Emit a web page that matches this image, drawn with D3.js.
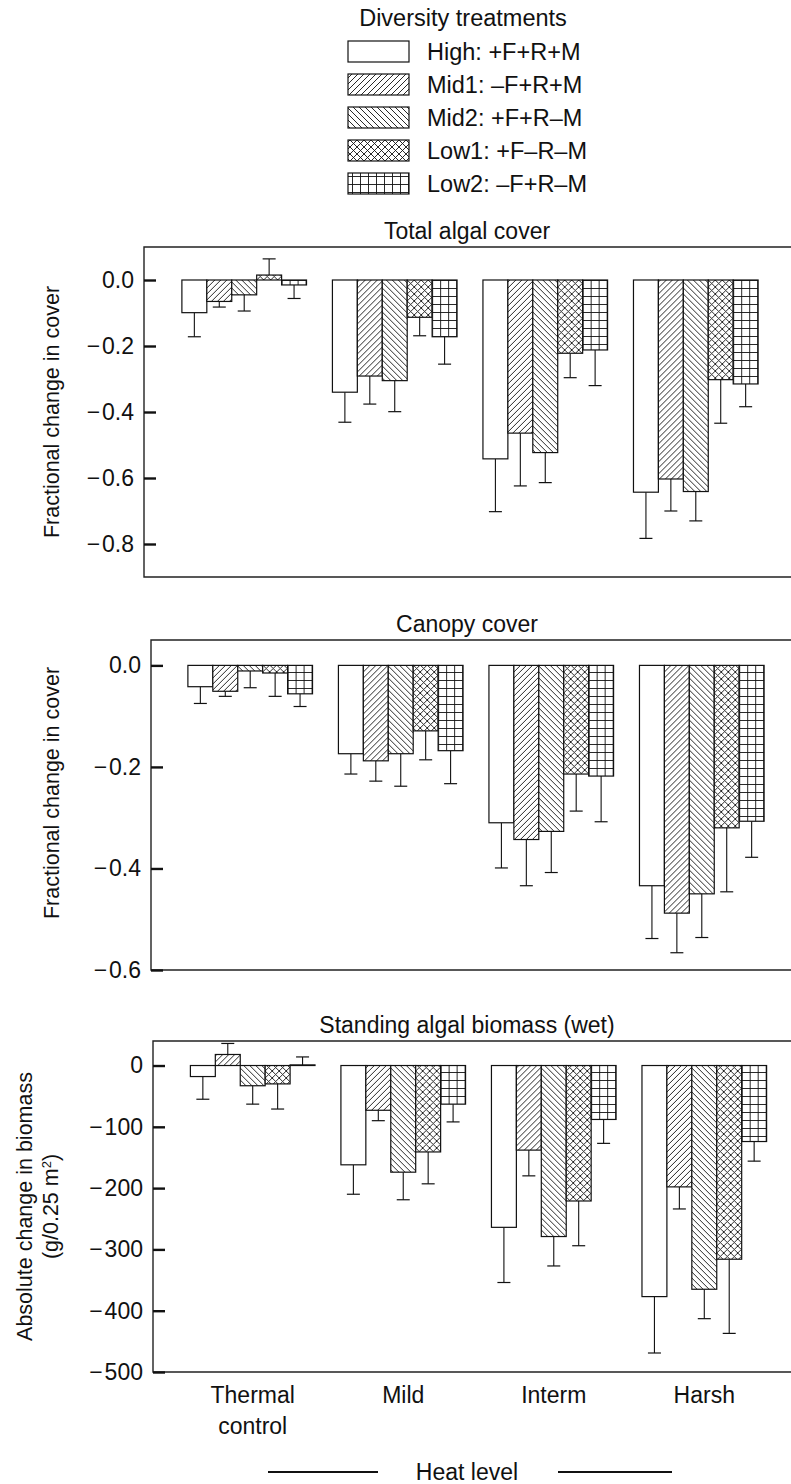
<!DOCTYPE html>
<html>
<head>
<meta charset="utf-8">
<script src="https://cdn.jsdelivr.net/npm/d3@7"></script>
<style>
  body { margin: 0; background: #fff; }
  text { font-family: "Liberation Sans", Arial, sans-serif; fill: #111; }
  .narrow { font-family: "Liberation Sans Narrow", "Liberation Sans", Arial, sans-serif; }
</style>
</head>
<body>
<div id="chart"></div>
<script>
const width = 791;
const height = 1484;

const heatLevels = ["Thermal control", "Mild", "Interm", "Harsh"];
const treatments = ["High", "Mid1", "Mid2", "Low1", "Low2"];
const treatmentLabels = ["High: +F+R+M", "Mid1: \u2013F+R+M", "Mid2: +F+R\u2013M", "Low1: +F\u2013R\u2013M", "Low2: \u2013F+R\u2013M"];

// rows = heat level, columns = treatment
const totalMean = [
  [-0.099, -0.065, -0.045, 0.015, -0.015],
  [-0.340, -0.291, -0.305, -0.113, -0.172],
  [-0.542, -0.464, -0.523, -0.222, -0.212],
  [-0.643, -0.603, -0.641, -0.302, -0.315]
];
const totalErr = [
  [0.073, 0.017, 0.049, 0.049, 0.041],
  [0.091, 0.085, 0.094, 0.056, 0.083],
  [0.160, 0.160, 0.091, 0.074, 0.108],
  [0.140, 0.097, 0.089, 0.132, 0.069]
];
const canopyMean = [
  [-0.042, -0.051, -0.011, -0.015, -0.056],
  [-0.174, -0.188, -0.174, -0.129, -0.168],
  [-0.310, -0.343, -0.327, -0.214, -0.218],
  [-0.434, -0.488, -0.450, -0.320, -0.307]
];
const canopyErr = [
  [0.033, 0.010, 0.033, 0.046, 0.025],
  [0.040, 0.040, 0.064, 0.057, 0.065],
  [0.089, 0.091, 0.081, 0.073, 0.090],
  [0.104, 0.078, 0.086, 0.126, 0.071]
];
const biomassMean = [
  [-18, 18, -33, -30, 1],
  [-162, -73, -174, -141, -63],
  [-264, -138, -279, -221, -88],
  [-377, -198, -365, -316, -124]
];
const biomassErr = [
  [37, 18, 30, 41, 13],
  [48, 17, 45, 52, 29],
  [90, 42, 48, 73, 39],
  [92, 36, 48, 121, 32]
];

const totalTicks = [0, -0.2, -0.4, -0.6, -0.8];
const canopyTicks = [0, -0.2, -0.4, -0.6];
const biomassTicks = [0, -100, -200, -300, -400, -500];

const fills = ["none", "url(#hatchR)", "url(#hatchL)", "url(#cross)", "url(#grid)"];

const svg = d3.select("#chart").append("svg")
    .attr("width", width)
    .attr("height", height);

// hatch patterns
const defs = svg.append("defs");
function pattern(id, size, d) {
  const p = defs.append("pattern")
      .attr("id", id)
      .attr("patternUnits", "userSpaceOnUse")
      .attr("width", size)
      .attr("height", size);
  p.append("rect").attr("width", size).attr("height", size).attr("fill", "#fff");
  p.append("path").attr("d", d).attr("stroke", "#111").attr("stroke-width", 0.9).attr("fill", "none");
}
pattern("hatchR", 6, "M0,6L6,0M-1,1L1,-1M5,7L7,5");
pattern("hatchL", 6, "M0,0L6,6M-1,5L1,7M5,-1L7,1");
pattern("cross", 7, "M0,7L7,0M-1,1L1,-1M6,8L8,6M0,0L7,7M-1,6L1,8M6,-1L8,1");
pattern("grid", 8, "M0,0.5H8M0.5,0V8");

// legend
svg.append("text")
    .attr("x", 463).attr("y", 26)
    .attr("text-anchor", "middle")
    .attr("font-size", 23.5)
    .text("Diversity treatments");

const legend = svg.append("g");
treatments.forEach((t, i) => {
  const y0 = 41 + i * 33;
  legend.append("rect")
      .attr("x", 348).attr("y", y0)
      .attr("width", 61).attr("height", 21)
      .attr("fill", i === 0 ? "#fff" : fills[i])
      .attr("stroke", "#111").attr("stroke-width", 1.2);
  legend.append("text")
      .attr("x", 427).attr("y", y0 + 19)
      .attr("font-size", 23.5)
      .text(treatmentLabels[i]);
});

function fmt(dec) {
  return v => {
    const s = d3.format(dec ? ".1f" : "d")(Math.abs(v));
    return v < 0 ? "\u2212\u200a" + s : s;
  };
}

function panel(opt) {
  const y = d3.scaleLinear().domain(opt.domain).range([opt.bottom, opt.top]);
  const x = d3.scaleBand()
      .domain(heatLevels)
      .range([156.3 + opt.shift, 783.7 + opt.shift])
      .paddingInner(0.172)
      .paddingOuter(0.17);
  const xi = d3.scaleBand().domain(treatments).range([0, x.bandwidth()]);

  const g = svg.append("g");

  // frame (right side runs off the page)
  g.append("path")
      .attr("d", d3.line()([[width + 2, opt.top], [opt.left, opt.top], [opt.left, opt.bottom], [width + 2, opt.bottom]]))
      .attr("fill", "none")
      .attr("stroke", "#222")
      .attr("stroke-width", 1.4);

  g.append("text")
      .attr("x", 467).attr("y", opt.top - 8)
      .attr("text-anchor", "middle")
      .attr("font-size", 23)
      .text(opt.title);

  const ax = g.append("g")
      .attr("transform", `translate(${opt.left},0)`)
      .call(d3.axisLeft(y).tickValues(opt.ticks).tickSize(-12).tickPadding(10).tickFormat(fmt(opt.dec)));
  ax.select(".domain").remove();
  ax.selectAll(".tick line").attr("stroke", "#111").attr("stroke-width", 2.4);
  ax.selectAll(".tick text").attr("font-size", 23).attr("fill", "#111")
      .style("font-family", "'Liberation Sans', Arial, sans-serif");

  opt.yLabel.forEach((lab, i) => {
    g.append("text")
        .attr("transform", `translate(${opt.labelX[i]},${(opt.top + opt.bottom) / 2 + opt.labelDy}) rotate(-90)`)
        .attr("text-anchor", "middle")
        .attr("font-size", 21.5)
        .html(lab);
  });

  const rows = opt.mean.flatMap((row, r) => row.map((v, c) => ({
    heat: heatLevels[r], t: treatments[c], idx: c, v: v, e: opt.err[r][c]
  })));

  const bars = g.append("g").selectAll("g").data(rows).join("g")
      .attr("transform", d => `translate(${x(d.heat) + xi(d.t)},0)`);

  // error bars, drawn away from zero
  bars.append("line")
      .attr("x1", xi.bandwidth() / 2).attr("x2", xi.bandwidth() / 2)
      .attr("y1", d => y(d.v))
      .attr("y2", d => y(d.v + Math.sign(d.v || 1) * d.e))
      .attr("stroke", "#111").attr("stroke-width", 1.1);
  bars.append("line")
      .attr("x1", xi.bandwidth() / 2 - 6.5).attr("x2", xi.bandwidth() / 2 + 6.5)
      .attr("y1", d => y(d.v + Math.sign(d.v || 1) * d.e))
      .attr("y2", d => y(d.v + Math.sign(d.v || 1) * d.e))
      .attr("stroke", "#111").attr("stroke-width", 1.2);

  bars.append("rect")
      .attr("x", 0)
      .attr("width", xi.bandwidth())
      .attr("y", d => Math.min(y(0), y(d.v)))
      .attr("height", d => Math.abs(y(d.v) - y(0)))
      .attr("fill", d => d.idx === 0 ? "#fff" : fills[d.idx])
      .attr("stroke", "#111")
      .attr("stroke-width", 1.2);

  return x;
}

panel({
  title: "Total algal cover", top: 247, bottom: 577, left: 144, shift: 0,
  domain: [-0.9, 0.1], ticks: totalTicks, dec: true,
  mean: totalMean, err: totalErr,
  yLabel: ["Fractional change in cover"], labelX: [59], labelDy: 0
});

panel({
  title: "Canopy cover", top: 640, bottom: 970, left: 151, shift: 6,
  domain: [-0.6, 0.05], ticks: canopyTicks, dec: true,
  mean: canopyMean, err: canopyErr,
  yLabel: ["Fractional change in cover"], labelX: [59], labelDy: -12
});

const x3 = panel({
  title: "Standing algal biomass (wet)", top: 1041, bottom: 1372, left: 153, shift: 8.5,
  domain: [-500, 40], ticks: biomassTicks, dec: false,
  mean: biomassMean, err: biomassErr,
  yLabel: ["Absolute change in biomass", "(g/0.25 m<tspan baseline-shift='super' font-size='13'>2</tspan>)"],
  labelX: [32, 58], labelDy: 0
});

// heat level labels
heatLevels.forEach(h => {
  const cx = x3(h) + x3.bandwidth() / 2;
  const lines = h === "Thermal control" ? ["Thermal", "control"] : [h];
  lines.forEach((ln, i) => {
    svg.append("text")
        .attr("class", "narrow")
        .attr("x", cx).attr("y", 1403 + i * 31)
        .attr("text-anchor", "middle")
        .attr("font-size", 23)
        .text(ln);
  });
});

svg.append("text")
    .attr("class", "narrow")
    .attr("x", 467).attr("y", 1480)
    .attr("text-anchor", "middle")
    .attr("font-size", 23)
    .text("Heat level");
svg.append("line").attr("x1", 268).attr("x2", 378).attr("y1", 1472).attr("y2", 1472)
    .attr("stroke", "#111").attr("stroke-width", 2);
svg.append("line").attr("x1", 558).attr("x2", 672).attr("y1", 1472).attr("y2", 1472)
    .attr("stroke", "#111").attr("stroke-width", 2);
</script>
</body>
</html>
